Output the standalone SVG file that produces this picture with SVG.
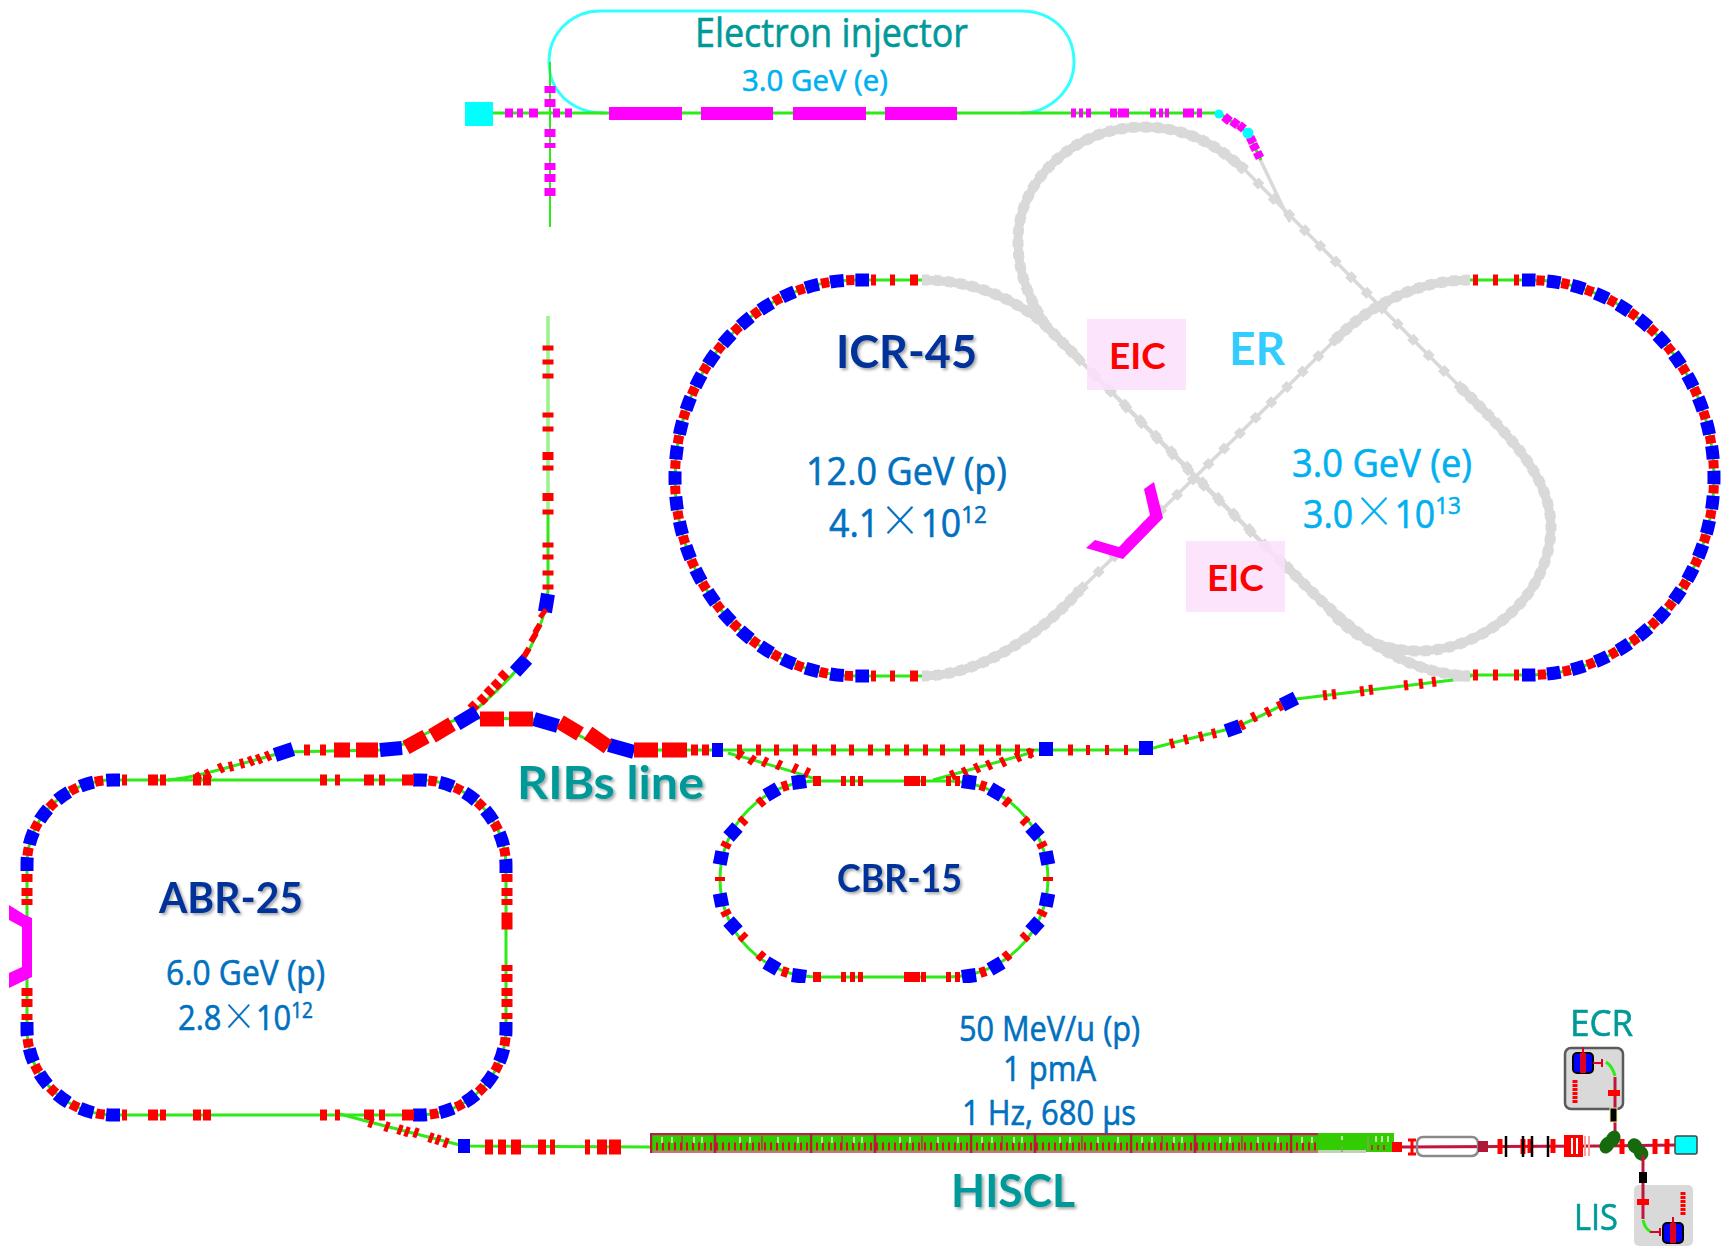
<svg xmlns="http://www.w3.org/2000/svg" width="1725" height="1246" viewBox="0 0 1725 1246">
<style>
path{fill:none}
.gl{stroke:#2eea14;stroke-width:3}
.r{stroke:#f00;stroke-width:11}
.rb{stroke:#f00;stroke-width:15}
.rs{stroke:#f00;stroke-width:10}
.b{stroke:#00f;stroke-width:14}
.m{stroke:#f0f;stroke-width:9}
.ma{stroke:#f0f;stroke-width:13}
.gy{stroke:#d9d9d9;stroke-width:9}
.gz{stroke:#d9d9d9;stroke-width:11;stroke-dasharray:7 5}
.gt{stroke:#d9d9d9;stroke-width:3.5}
.gb{stroke:#d9d9d9;stroke-width:9;stroke-dasharray:8 14}
.cr{stroke:#c0143c;stroke-width:3}
.k{stroke:#000}
.soft{filter:url(#bl)}
text{font-family:"Open Sans","Liberation Sans",sans-serif;stroke-width:.6}
.lb{font-family:Lato,"Liberation Sans",sans-serif;font-weight:700;stroke-width:0;filter:url(#sh)}
.t{fill:#009999;stroke:#009999}
.bl{fill:#0070c0;stroke:#0070c0}
.cy{fill:#00b0f0;stroke:#00b0f0}
.nv{fill:#003399}
.x{font-family:"Noto Sans CJK JP",sans-serif;font-weight:300;stroke-width:0}
.eic{fill:#fbe0fb}
</style>
<defs>
<filter id="bl" x="-3%" y="-3%" width="106%" height="106%"><feGaussianBlur stdDeviation=".7"/></filter>
<filter id="sh" x="-10%" y="-10%" width="125%" height="135%"><feDropShadow dx="2" dy="2" stdDeviation="1.6" flood-color="#000" flood-opacity=".35"/></filter>
<pattern id="cry" x="650" y="1133" width="160" height="20" patternUnits="userSpaceOnUse">
<rect width="160" height="20" fill="#33cc00"/>
<path d="M0 1H160" stroke="#b8244a" stroke-width="2.5"/>
<path d="M0 19H160" stroke="#d0707f" stroke-width="2.5"/>
<path d="M1 0V20M65 0V20" stroke="#a82040" stroke-width="2.5"/>
<path d="M32 3V17M112 3V17" stroke="#c0304f" stroke-width="1.5"/>
<path d="M0 13.500H160" stroke="#d8102a" stroke-width="8" stroke-dasharray="2 4"/>
<path d="M12 4v6M22 4v6M44 4v6M52 4v6M90 4v6M100 4v6M128 4v6M148 4v6" stroke="#e6f5d8" stroke-width="1.500"/>
</pattern>
<g id="cbrQ">
<path class="b" d="M962 781L976 783M990 788.500L1002 795.500M1030.500 827L1039.500 837M1045.700 851.500L1048.300 864.500"/>
<path class="rs" d="M980 785L986 787M1004.700 800L1009.300 804M1023 819L1027 823M1040.700 842.400L1043.300 847.600"/>
</g>
<g id="cbrT">
<path class="rs" d="M813 781h4M817 781h4M841 781h5M850 781h5M858 781h5M904 781h16M921 781h5M946 781h5M955 781h5"/>
</g>
<g id="abrT">
<path class="r" d="M122 780h5M148 780h10M160 780h6M193 780h8M203 780h8M320 780h7M335 780h5M364 780h10M379 780h6M402 780h12"/>
</g>
<g id="src">
<rect x="-10" y="-10" width="20" height="20" rx="4" fill="#00f" stroke="#000" stroke-width="2"/>
<path d="M-10 -3V3M10 -3V3" stroke="#000" stroke-width="2"/>
<path d="M0 -16V10M-2 -10V10M2 -10V10" stroke="#e00020" stroke-width="2"/>
</g>
</defs>

<g id="er-ring" class="soft">
<path class="gy" d="M1045 325C1025 290 1018 270 1018 240C1018 180 1075 127 1143 127C1190 127 1220 148 1245 170"/>
<path class="gz" d="M1045 325C1025 290 1018 270 1018 240C1018 180 1075 127 1143 127C1190 127 1220 148 1245 170"/>
<path class="gt" d="M1240 165L1463 390M1259 157L1290 222"/>
<path class="gb" d="M1240 165L1463 390"/>
<path class="gy" d="M1460 387C1515 440 1551 480 1551 528C1549 600 1480 651 1419 651C1385 651 1355 640 1330 610"/>
<path class="gz" d="M1460 387C1515 440 1551 480 1551 528C1549 600 1480 651 1419 651C1385 651 1355 640 1330 610"/>
<path class="gt" d="M1332 612L1195 477L1045 325"/>
<path class="gb" d="M1332 612L1195 477L1045 325"/>
<path class="gy" d="M922 280C960 280 1000 290 1040 320L1075 355"/>
<path class="gz" d="M922 280C960 280 1000 290 1040 320L1075 355"/>
<path class="gt" d="M1075 355L1290 570"/>
<path class="gb" d="M1075 355L1290 570"/>
<path class="gy" d="M1285 565C1340 620 1390 672 1468 676"/>
<path class="gz" d="M1285 565C1340 620 1390 672 1468 676"/>
<path class="gy" d="M922 676C980 676 1040 635 1080 590"/>
<path class="gz" d="M922 676C980 676 1040 635 1080 590"/>
<path class="gt" d="M1080 590L1340 335"/>
<path class="gb" d="M1080 590L1340 335"/>
<path class="gy" d="M1335 340C1380 295 1430 280 1470 280"/>
<path class="gz" d="M1335 340C1380 295 1430 280 1470 280"/>
</g>

<g id="injector" class="soft">
<path d="M605 113C570 113 549 90 549 62C549 30 575 11 600 11H1021C1050 11 1074 30 1074 62C1074 90 1050 113 1021 113" stroke="#33ffff" stroke-width="3"/>
<path class="gl" d="M493 113H1219L1248 133L1261 160"/>
<path class="gl" d="M550 62V227" style="stroke-width:2"/>
<rect x="465" y="102" width="28" height="24" fill="#00ffff"/>
<path class="ma" d="M609 113.500H682M701 113.500H773M793 113.500H866M885 113.500H957"/>
<path class="m" d="M505 113h8M517 113h6M529 113h9M553 113h7M565 113h7M1071 113h5M1079 113h4M1086 113h5M1110 113h7M1118 113h11M1150 113h6M1159 113h4M1165 113h4M1183 113h11M1197 113h5"/>
<path class="m" d="M1224 116.500l6 5M1232 121l6 4.500M1239 125l5 4M1250 137l3 6M1253 144l3 6M1257 152l3 6"/>
<circle cx="1219" cy="114" r="4.500" fill="#00ffff"/><circle cx="1248" cy="133" r="5.500" fill="#00ffff"/>
<path style="stroke:#f0f;stroke-width:11" d="M550 86v7M550 99v8M550 129v8M550 143v5M550 163v7M550 174v8M550 188v8"/>
</g>

<g id="ribs-line" class="soft">
<path class="gl" d="M548 316V590C546 620 530 650 518 668C505 685 490 697 472 713"/>
<path d="M548 316V512" stroke="#fff" stroke-opacity=".5" stroke-width="3"/>
<path style="stroke:#f00;stroke-width:11" d="M548 345.500v5M548 359.500v5M548 373.500v5M548 412.500v5M548 426.500v5M548 452v8M548 465.500v5M548 493v8M548 509.500v5M548 542.500v5M548 554.500v5M548 570.500v5M548 584.500v5"/>
<path class="b" d="M548 594L545 612M527 659L515 672"/>
<path class="rs" d="M541 612l4 3M535 627l5 3M531 636l5 3M524 651l5 3M506 673l-5 5M499 682l-5 5M492 689l-5 5M485 697l-5 5M476 704l-5 5"/>
<path class="gl" d="M284 752L380 750C420 745 440 718 470 718L530 719C570 722 590 750 625 750H1146L1172 743L1233 728C1260 718 1280 705 1296 699L1453 680L1475 675"/>
<path class="gl" d="M168 780C190 778 205 774 284 752"/>
<path class="rs" d="M197 778l4 -2M206 775l4 -2M219 769l4 -2M229 767l4 -1M240 764l4 -1M249 762l4 -2M257 760l4 -2M266 757l4 -2"/>
<path class="b" d="M275 755L293 749M380 750L402 748M457 724L477 712M534 719L558 726M609 745L634 752M712 750H723"/>
<path class="r" d="M304 750h6M320 750h6"/>
<path class="rb" d="M334 750h16M356 750h22M406 747.500L426 736.500M432 736L452 724M480 719H504M509 719H533M560 722L580 734M588 733L608 747M634 750H658M662 750H687"/>
<path class="r" d="M691 750h7M702 750h7M737 750h5M756 750h5M774 750h5M793 750h5M812 750h5M831 750h5M849 750h5M868 750h5M885 750h5M904 750h5M923 750h5M940 750h5M960 750h5M979 750h5M996 750h5M1015 750h5M1068 750h5"/>
<path class="b" d="M1039 749H1053M1139 748H1153M1226 731L1240 726M1282 705L1296 698"/>
<path class="rs" d="M1029 753l4 1M1016 756l4 -1M1170 744l4 -1M1184 740l4 -1M1199 737l4 -1M1212 734l4 -1M1240 726l4 -2M1252 718l4 -2M1266 713l4 -2M1278 707l4 -2M1086 750h4M1105 750h4M1124 750h4M1323 695.500l4 -.5M1332 694.500l4 -.5M1360 691.500l4 -.5M1369 690l4 -.5M1404 685.500l4 -.5M1419 684l4 -.5M1432 682l4 -.5"/>
<path class="gl" d="M728 753C760 762 790 770 818 780"/>
<path class="rs" d="M738 753.500l4 3M750 758.500l4 3M763 761l4 2M777 764l4 2M793 767.500l4 2M805 771.500l4 2"/>
<path class="gl" d="M1030 753L933 780"/>
<path class="rs" d="M1028 754l4 -2M1016 758l4 -2M1001 763l4 -2M987 766l4 -2M975 769l4 -2M963 773l4 -2M951 776l4 -2"/>
</g>

<g id="icr-45" class="soft">
<path class="gl" d="M922 280H856A181 198 0 0 0 856 676H922"/>
<path class="gl" d="M1470 280H1529A185 197.500 0 0 1 1529 675H1470"/>
<path d="M1453 676H1470" stroke="#d9d9d9" stroke-width="11"/>
<path d="M869 280H856A181 198 0 0 0 856 676H869" pathLength="638" stroke="#00f" stroke-width="13" stroke-dasharray="14 12"/>
<path d="M869 280H856A181 198 0 0 0 856 676H869" pathLength="638" stroke="#f00" stroke-width="10" stroke-dasharray="0 15 8.500 2.500"/>
<path d="M1522 280H1529A185 197.500 0 0 1 1529 675H1522" pathLength="638" stroke="#00f" stroke-width="13" stroke-dasharray="14 12"/>
<path d="M1522 280H1529A185 197.500 0 0 1 1529 675H1522" pathLength="638" stroke="#f00" stroke-width="10" stroke-dasharray="0 15 8.500 2.500"/>
<path class="r" d="M871 280h5M890 280h5M910 280h8M871 676h5M890 676h5M910 676h8M1473 280h5M1493 280h5M1514 280h5M1473 675h5M1493 675h5M1514 675h5"/>
</g>

<g id="cbr-15" class="soft">
<path class="gl" d="M817 781H948A100 98 0 0 1 948 977H817A97 98 0 0 1 817 781Z"/>
<use href="#cbrQ"/>
<use href="#cbrQ" transform="matrix(-1 0 0 1 1768 0)"/>
<use href="#cbrQ" transform="matrix(1 0 0 -1 0 1758)"/>
<use href="#cbrQ" transform="matrix(-1 0 0 -1 1768 1758)"/>
<use href="#cbrT"/>
<use href="#cbrT" transform="matrix(1 0 0 -1 0 1758)"/>
<path class="rs" d="M1048 877v4M720 877v4"/>
</g>

<g id="abr-25" class="soft">
<path class="gl" d="M113 780H420A86 86 0 0 1 506 866V1029A86 86 0 0 1 420 1115H113A86 86 0 0 1 27 1029V864A86 84 0 0 1 113 780Z"/>
<path d="M413 780H420A86 86 0 0 1 506 866V873" pathLength="149" stroke="#00f" stroke-width="13" stroke-dasharray="14 13"/>
<path d="M413 780H420A86 86 0 0 1 506 866V873" pathLength="149" stroke="#f00" stroke-width="10" stroke-dasharray="0 15.500 8.500 3"/>
<path d="M506 1022V1029A86 86 0 0 1 420 1115H413" pathLength="149" stroke="#00f" stroke-width="13" stroke-dasharray="14 13"/>
<path d="M506 1022V1029A86 86 0 0 1 420 1115H413" pathLength="149" stroke="#f00" stroke-width="10" stroke-dasharray="0 15.500 8.500 3"/>
<path d="M120 1115H113A86 86 0 0 1 27 1029V1022" pathLength="149" stroke="#00f" stroke-width="13" stroke-dasharray="14 13"/>
<path d="M120 1115H113A86 86 0 0 1 27 1029V1022" pathLength="149" stroke="#f00" stroke-width="10" stroke-dasharray="0 15.500 8.500 3"/>
<path d="M27 871V864A86 84 0 0 1 113 780H120" pathLength="149" stroke="#00f" stroke-width="13" stroke-dasharray="14 13"/>
<path d="M27 871V864A86 84 0 0 1 113 780H120" pathLength="149" stroke="#f00" stroke-width="10" stroke-dasharray="0 15.500 8.500 3"/>
<use href="#abrT"/>
<use href="#abrT" transform="matrix(1 0 0 -1 0 1895)"/>
<path style="stroke:#f00;stroke-width:11" d="M507 874v8M507 888v8M507 899v6M507 912.500v17M507 965v6M507 974v8M507 988v8M507 999v8M507 1013v6M27 874v8M27 888v8M27 899v6M27 988v8M27 999v8M27 1014v6"/>
<polygon points="9,905 25,915 32,918 32,977 9,988 9,973 22,967 22,927 9,920" fill="#f0f"/>
<polygon points="1144,489 1154,482 1163,518 1123,559 1086,548 1095,540 1119,547 1150,515" fill="#f0f"/>
</g>

<g id="hiscl" class="soft">
<path class="gl" d="M340 1114C380 1125 420 1135 464 1146L650 1147"/>
<path class="rs" d="M369 1122l4 1.500M385 1126l4 1.500M398 1129l4 1.500M405 1131l4 1.500M414 1132l4 1.500M429 1137l4 1.500M436 1139l4 1.500M444 1142l4 1.500"/>
<path class="b" d="M458 1146H470"/>
<path class="rb" d="M485 1147h8M498 1147h8M511 1147h10M538 1147h8M550 1147h5M585 1147h5M597 1147h10M609 1147h12"/>
<rect x="650" y="1133" width="668" height="20" fill="url(#cry)"/>
<rect x="1318" y="1133" width="76" height="19" fill="#33cc00"/>
<rect x="1318" y="1150" width="48" height="3" fill="#bcd4b4"/>
<path d="M1342 1136v4M1376 1136v6M1382 1136v6M1388 1136v6" stroke="#e6f5d8" stroke-width="1.500"/>
<path d="M1368 1135V1152M1342 1146v6" stroke="#7ea860" stroke-width="1.500"/>
<path d="M1372 1145v5M1378 1145v5M1384 1145v5" stroke="#d8102a" stroke-width="1.500"/>
</g>

<g id="front-end" class="soft">
<path class="cr" d="M1402 1147L1600 1146L1677 1145"/>
<rect x="1392" y="1142" width="10" height="10" fill="#f00"/>
<path d="M1408 1140h8M1412 1140v14M1408 1154h8" stroke="#f00" stroke-width="3"/>
<rect x="1417" y="1137" width="61" height="19" rx="6" fill="none" stroke="#8a8a8a" stroke-width="2.500"/>
<rect x="1478" y="1141" width="10" height="11" fill="#b01838"/>
<path d="M1500 1139v15M1523 1139v15M1530 1139v14M1553 1139v14" stroke="#f00" stroke-width="5"/>
<path class="k" stroke-width="2.500" d="M1506 1136V1157M1523 1136V1157M1532 1136V1157M1548 1136V1157"/>
<rect x="1564" y="1135" width="19" height="22" fill="#f00"/>
<path d="M1572 1138v16M1577 1138v16" stroke="#fff" stroke-width="2"/>
<path d="M1585 1136V1156M1589 1136V1156" stroke="#f9a0a0" stroke-width="2"/>
<path d="M1622 1139v15M1655 1139v15M1667 1139v15" stroke="#f00" stroke-width="5"/>
<rect x="1675" y="1136" width="22" height="18" rx="2" fill="#00ffff" stroke="#444" stroke-width="1.500"/>
<rect x="1565" y="1048" width="58" height="61" rx="6" fill="#d9d9d9" stroke="#5a5a5a" stroke-width="2.500"/>
<use href="#src" transform="translate(1583 1063)"/>
<path d="M1593 1063H1601M1602 1059V1067" stroke="#e00020" stroke-width="2"/>
<path d="M1606 1062Q1613 1067 1615 1076" stroke="#2eea14" stroke-width="3"/>
<path class="cr" d="M1615 1077V1140"/>
<path d="M1608 1093H1620" stroke="#f00" stroke-width="6"/>
<path d="M1575 1080V1103" stroke="#f00" stroke-width="5" stroke-dasharray="3 1"/>
<rect x="1610" y="1108" width="7" height="14" fill="#000" stroke="#f5e89a" stroke-width="1"/>
<ellipse cx="1607" cy="1145" rx="7" ry="9" transform="rotate(30 1607 1145)" fill="#156b10"/>
<ellipse cx="1613" cy="1139" rx="7" ry="9" transform="rotate(30 1613 1139)" fill="#156b10"/>
<ellipse cx="1635" cy="1146" rx="7" ry="8" transform="rotate(-35 1635 1146)" fill="#156b10"/>
<ellipse cx="1641" cy="1153" rx="7" ry="8" transform="rotate(-35 1641 1153)" fill="#156b10"/>
<rect x="1634" y="1185" width="59" height="61" rx="5" fill="#d9d9d9"/>
<path class="cr" d="M1643 1155V1219"/>
<rect x="1639" y="1172" width="8" height="11" fill="#000"/>
<path d="M1637 1202H1649" stroke="#f00" stroke-width="6"/>
<path d="M1643 1220Q1645 1229 1651 1232" stroke="#2eea14" stroke-width="3"/>
<path d="M1650 1232H1661M1660 1228V1236" stroke="#e00020" stroke-width="2"/>
<use href="#src" transform="translate(1673 1233)"/>
<path d="M1683 1192V1216" stroke="#f00" stroke-width="5" stroke-dasharray="3 1"/>
</g>

<g id="eic-boxes">
<rect class="eic" x="1087" y="319" width="99" height="71" fill-opacity=".85"/>
<rect class="eic" x="1186" y="541" width="99" height="71" fill-opacity=".85"/>
</g>

<g id="labels">
<text class="t" x="695" y="47" font-size="40" textLength="273" lengthAdjust="spacingAndGlyphs">Electron injector</text>
<text class="cy" x="742" y="91" font-size="30" textLength="146" lengthAdjust="spacingAndGlyphs">3.0 GeV (e)</text>
<text class="lb nv" x="836" y="368" font-size="46" textLength="141" lengthAdjust="spacingAndGlyphs">ICR-45</text>
<text class="bl" x="806" y="485" font-size="38" textLength="201" lengthAdjust="spacingAndGlyphs">12.0 GeV (p)</text>
<text class="bl" x="829" y="537" font-size="38" textLength="158" lengthAdjust="spacingAndGlyphs">4.1<tspan class="x" font-size="44">×</tspan>10<tspan dy="-14" font-size="24">12</tspan></text>
<text class="lb" x="1229" y="365" font-size="46" fill="#33ccff" style="filter:none">ER</text>
<text class="lb" x="1109" y="369" font-size="37" fill="#f00" style="filter:none">EIC</text>
<text class="lb" x="1207" y="591" font-size="37" fill="#f00" style="filter:none">EIC</text>
<text class="cy" x="1292" y="477" font-size="38" textLength="180" lengthAdjust="spacingAndGlyphs">3.0 GeV (e)</text>
<text class="cy" x="1303" y="528" font-size="38" textLength="158" lengthAdjust="spacingAndGlyphs">3.0<tspan class="x" font-size="44">×</tspan>10<tspan dy="-14" font-size="24">13</tspan></text>
<text class="lb t" x="517" y="799" font-size="46" textLength="187" lengthAdjust="spacingAndGlyphs">RIBs line</text>
<text class="lb nv" x="159" y="913" font-size="42" textLength="144" lengthAdjust="spacingAndGlyphs">ABR-25</text>
<text class="bl" x="166" y="985" font-size="34" textLength="159" lengthAdjust="spacingAndGlyphs">6.0 GeV (p)</text>
<text class="bl" x="178" y="1030" font-size="34" textLength="135" lengthAdjust="spacingAndGlyphs">2.8<tspan class="x" font-size="38">×</tspan>10<tspan dy="-12" font-size="21">12</tspan></text>
<text class="lb nv" x="837" y="892" font-size="38" textLength="125" lengthAdjust="spacingAndGlyphs">CBR-15</text>
<text class="bl" x="959" y="1041" font-size="34" textLength="181" lengthAdjust="spacingAndGlyphs">50 MeV/u (p)</text>
<text class="bl" x="1003" y="1081" font-size="34" textLength="93" lengthAdjust="spacingAndGlyphs">1 pmA</text>
<text class="bl" x="962" y="1125" font-size="34" textLength="174" lengthAdjust="spacingAndGlyphs">1 Hz, 680 µs</text>
<text class="lb t" x="951" y="1207" font-size="46" textLength="124" lengthAdjust="spacingAndGlyphs">HISCL</text>
<text class="t" x="1570" y="1036" font-size="36" textLength="63" lengthAdjust="spacingAndGlyphs">ECR</text>
<text class="t" x="1574" y="1230" font-size="36" textLength="44" lengthAdjust="spacingAndGlyphs">LIS</text>
</g>
</svg>
